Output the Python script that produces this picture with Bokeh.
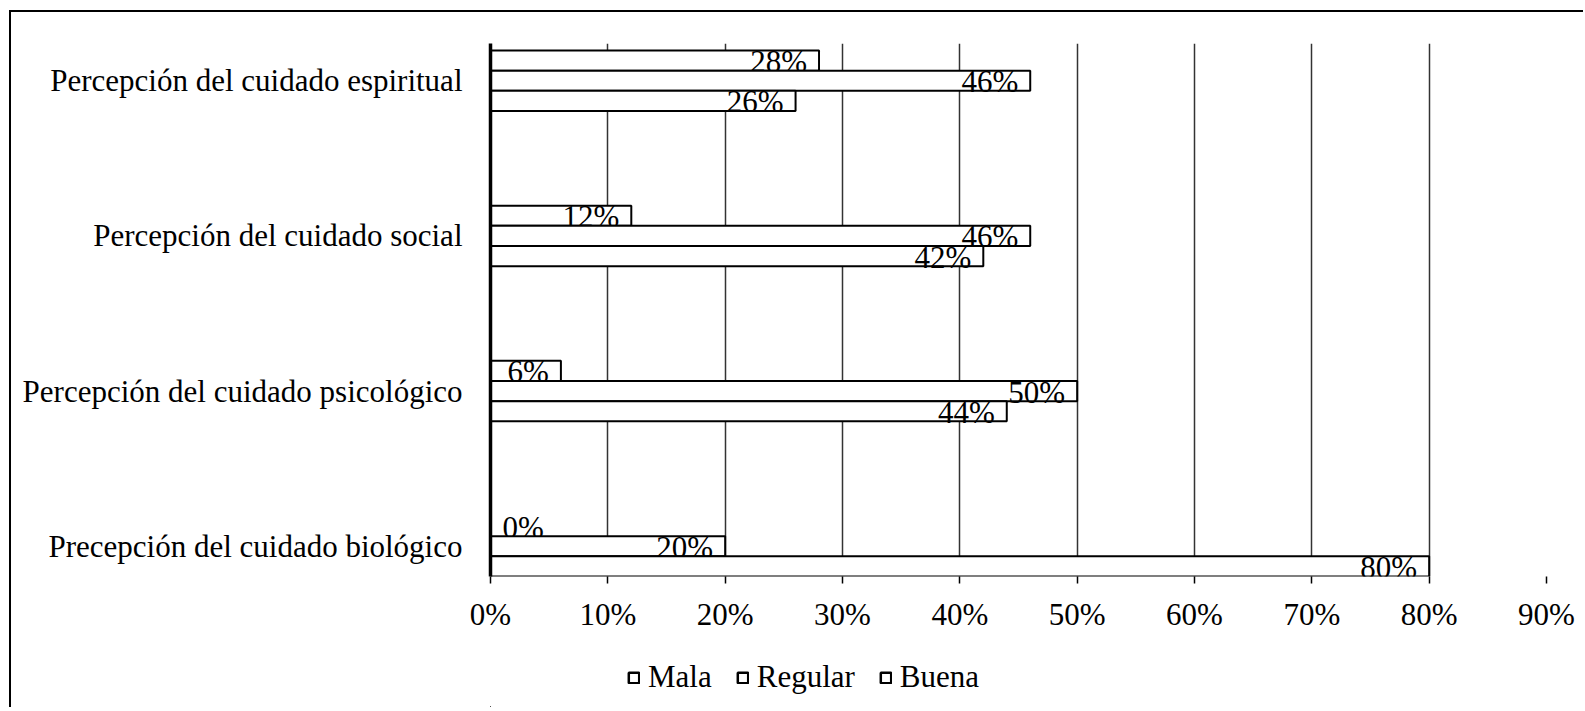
from bokeh.plotting import figure
from bokeh.layouts import column
from bokeh.models import (ColumnDataSource, Range1d, FixedTicker, PrintfTickFormatter,
                          Legend, LegendItem)
from bokeh.core.properties import value
from bokeh.embed import file_html
from bokeh.resources import INLINE

# categories, bottom to top
categories = ["Precepción del cuidado biológico",
              "Percepción del cuidado psicológico",
              "Percepción del cuidado social",
              "Percepción del cuidado espiritual"]
series = ["Mala", "Regular", "Buena"]
mala = [0, 6, 12, 28]
regular = [20, 50, 46, 46]
buena = [80, 44, 42, 26]
x_ticks = [0, 10, 20, 30, 40, 50, 60, 70, 80, 90]

FONT = "Liberation Serif"
FS = "31px"
W = 1572

p = figure(width=W, height=628, output_backend="svg", toolbar_location=None,
           x_range=Range1d(0, 90), y_range=Range1d(-0.195, 3.24),
           min_border_left=479, min_border_right=37, min_border_top=31,
           min_border_bottom=64)
p.outline_line_color = None
p.background_fill_color = "white"
p.border_fill_color = "white"

offsets = [0.13, 0.0, -0.13]
bar_h = 0.13
for name, vals, off in zip(series, [mala, regular, buena], offsets):
    ys = [i + off for i in range(len(categories))]
    src = ColumnDataSource(dict(y=ys, right=vals,
                                label=[f"{v}%" for v in vals],
                                tx=vals,
                                align=["left" if v == 0 else "right" for v in vals],
                                xo=[12 if v == 0 else -12 for v in vals]))
    p.hbar(y="y", left=0, right="right", height=bar_h, source=src,
           fill_color="white", line_color="black", line_width=2)
    p.text(x="tx", y="y", text="label", source=src, text_align="align",
           text_baseline="middle", x_offset="xo", y_offset=1,
           text_font=value(FONT), text_font_size=FS, text_color="black")

# axes
p.xaxis.ticker = FixedTicker(ticks=x_ticks)
p.xaxis.formatter = PrintfTickFormatter(format="%d%%")
p.xaxis.major_label_text_font = FONT
p.xaxis.major_label_text_font_size = FS
p.xaxis.major_label_text_color = "black"
p.xaxis.major_tick_in = 0
p.xaxis.major_tick_out = 7
p.xaxis.major_tick_line_color = "black"
p.xaxis.major_tick_line_width = 1.5
p.xaxis.minor_tick_line_color = None
p.xaxis.axis_line_color = None
p.xaxis.major_label_standoff = 13

p.yaxis.ticker = FixedTicker(ticks=list(range(len(categories))))
p.yaxis.major_label_overrides = {i: c for i, c in enumerate(categories)}
p.yaxis.major_label_text_font = FONT
p.yaxis.major_label_text_font_size = FS
p.yaxis.major_label_text_color = "black"
p.yaxis.major_tick_line_color = None
p.yaxis.minor_tick_line_color = None
p.yaxis.axis_line_color = "black"
p.yaxis.axis_line_width = 3.5
p.yaxis.major_label_standoff = 22

p.xgrid.ticker = FixedTicker(ticks=x_ticks)
p.xgrid.grid_line_color = "#333333"
p.xgrid.grid_line_width = 1.5
p.ygrid.grid_line_color = None

# legend strip below the chart (dummy renderers kept outside the visible range)
lf = figure(width=W, height=67, output_backend="svg", toolbar_location=None,
            x_range=Range1d(0, 1), y_range=Range1d(0, 1),
            min_border=0, x_axis_type=None, y_axis_type=None)
lf.outline_line_color = None
lf.grid.grid_line_color = None
lf.border_fill_color = "white"
items = []
for name in series:
    dummy = ColumnDataSource(dict(y=[-50], left=[-50], right=[-49]))
    r = lf.hbar(y="y", left="left", right="right", height=0.1, source=dummy,
                fill_color="white", line_color="black", line_width=2.5)
    items.append(LegendItem(label=name, renderers=[r]))
legend = Legend(items=items, orientation="horizontal", location=(137, 12),
                label_text_font=FONT, label_text_font_size=FS,
                label_text_color="black",
                glyph_width=13, glyph_height=13, label_standoff=8, spacing=24,
                padding=2, margin=0, border_line_color=None,
                background_fill_alpha=0)
lf.add_layout(legend, "center")

layout = column(p, lf, spacing=0)
layout.styles = {"border-top": "2px solid black", "border-left": "2px solid black",
                 "margin-left": "9px", "margin-top": "10px"}

open("out.html", "w").write(file_html(layout, INLINE))
